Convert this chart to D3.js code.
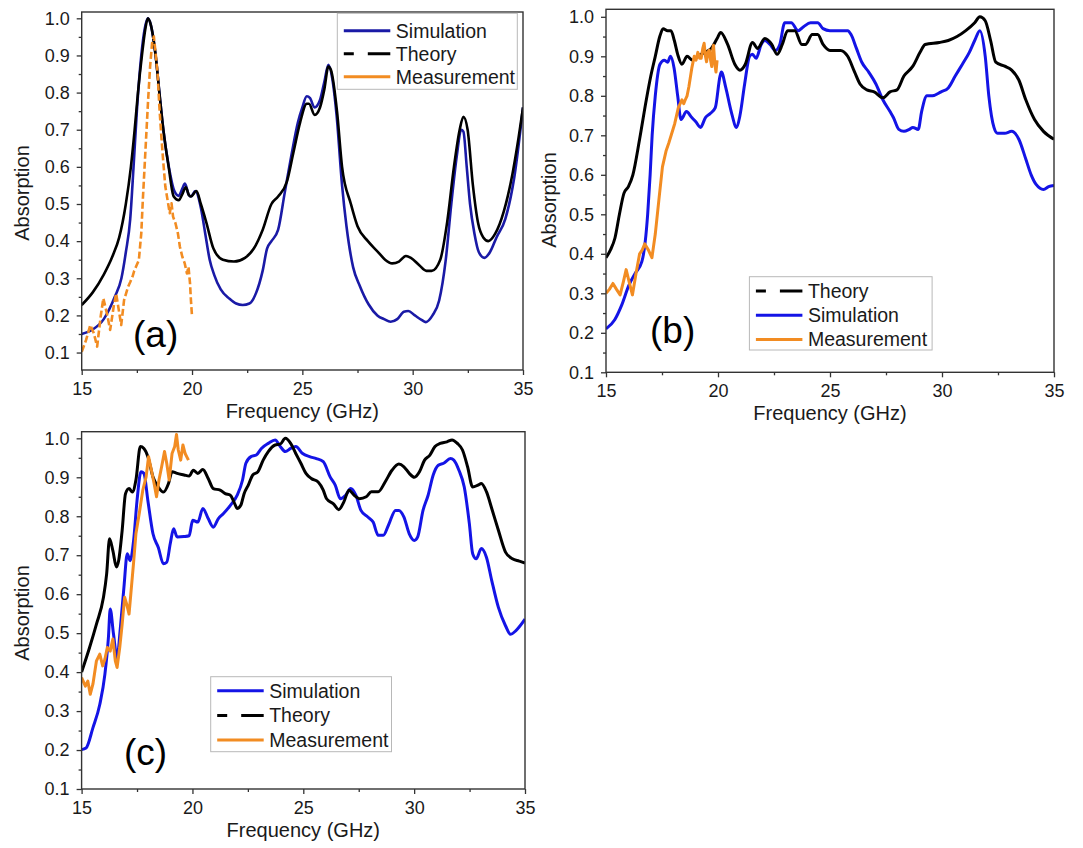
<!DOCTYPE html>
<html>
<head>
<meta charset="utf-8">
<script src="https://cdn.jsdelivr.net/npm/d3@7/dist/d3.min.js"></script>
<style>
  body { margin: 0; background: #fff; }
  svg text { font-family: Arial, "Liberation Sans", sans-serif; fill: #1a1a1a; }
</style>
</head>
<body>
<svg id="chart" width="1083" height="848"></svg>
<script>
"use strict";

/**
 * Absorption spectra of three absorbers, panels (a) (b) (c).
 * Values, [frequency GHz, absorption].
 */

var xTicks = [15, 20, 25, 30, 35]
var xMinorTicks = [17.5, 22.5, 27.5, 32.5]
var yTicks = [0.1, 0.2, 0.3, 0.4, 0.5, 0.6, 0.7, 0.8, 0.9, 1.0]
var yMinorTicks = [0.15, 0.25, 0.35, 0.45, 0.55, 0.65, 0.75, 0.85, 0.95]

// panel (a)
var simA = [[15.0,0.15],[15.5,0.162],[16.0,0.19],[16.5,0.25],[16.8,0.3],[17.0,0.37],[17.2,0.46],[17.35,0.6],
  [17.5,0.75],[17.7,0.9],[17.85,0.97],[18.0,1.0],[18.12,0.985],[18.35,0.9],[18.52,0.8],[18.7,0.7],[18.95,0.6],
  [19.2,0.535],[19.4,0.522],[19.55,0.54],[19.68,0.555],[19.85,0.525],[19.95,0.52],[20.15,0.535],[20.4,0.49],
  [20.6,0.42],[20.8,0.35],[21.0,0.31],[21.3,0.27],[21.7,0.245],[22.0,0.232],[22.3,0.228],[22.6,0.232],[22.9,0.26],
  [23.2,0.32],[23.4,0.38],[23.6,0.4],[23.9,0.43],[24.2,0.53],[24.5,0.63],[24.8,0.72],[25.0,0.76],[25.2,0.79],
  [25.35,0.785],[25.55,0.76],[25.8,0.78],[26.0,0.83],[26.18,0.875],[26.35,0.84],[26.55,0.74],[26.8,0.55],[27.0,0.44],
  [27.3,0.33],[27.6,0.28],[28.0,0.23],[28.4,0.2],[28.7,0.19],[29.0,0.183],[29.3,0.19],[29.6,0.21],[29.8,0.212],
  [30.1,0.2],[30.4,0.188],[30.6,0.182],[30.9,0.2],[31.2,0.24],[31.5,0.35],[31.75,0.5],[32.0,0.63],[32.2,0.7],
  [32.3,0.695],[32.45,0.6],[32.6,0.5],[32.8,0.42],[33.0,0.37],[33.25,0.355],[33.5,0.37],[33.8,0.41],[34.2,0.46],
  [34.6,0.57],[35.0,0.76]]
var theoryA = [[15.0,0.228],[15.5,0.262],[16.0,0.31],[16.4,0.36],[16.7,0.41],[17.0,0.5],[17.23,0.6],[17.4,0.7],
  [17.55,0.8],[17.73,0.9],[17.88,0.97],[18.0,1.0],[18.12,0.985],[18.35,0.9],[18.52,0.8],[18.7,0.7],[18.94,0.6],
  [19.17,0.52],[19.4,0.51],[19.55,0.525],[19.72,0.545],[19.85,0.525],[19.95,0.52],[20.2,0.535],[20.4,0.5],
  [20.65,0.45],[20.97,0.38],[21.4,0.35],[21.9,0.345],[22.4,0.355],[22.8,0.38],[23.2,0.43],[23.6,0.5],[23.9,0.52],
  [24.3,0.56],[24.6,0.64],[24.9,0.72],[25.2,0.77],[25.3,0.77],[25.56,0.74],[25.8,0.76],[26.0,0.81],[26.18,0.87],
  [26.3,0.86],[26.57,0.75],[26.8,0.6],[27.2,0.5],[27.5,0.44],[27.97,0.4],[28.44,0.37],[28.75,0.35],[29.07,0.34],
  [29.38,0.345],[29.69,0.36],[29.92,0.355],[30.3,0.335],[30.62,0.32],[30.86,0.32],[31.25,0.35],[31.56,0.45],
  [31.87,0.6],[32.13,0.7],[32.3,0.735],[32.49,0.7],[32.73,0.55],[32.96,0.45],[33.2,0.41],[33.43,0.4],[33.74,0.42],
  [34.13,0.48],[34.52,0.58],[34.75,0.66],[35.0,0.76]]
var measA = [[15.0,0.102],[15.2,0.134],[15.39,0.174],[15.55,0.152],[15.7,0.116],[15.86,0.197],[15.98,0.246],
  [16.14,0.206],[16.29,0.161],[16.45,0.224],[16.56,0.259],[16.68,0.215],[16.79,0.174],[16.92,0.241],[17.1,0.277],
  [17.2,0.29],[17.3,0.304],[17.38,0.32],[17.46,0.331],[17.59,0.349],[17.7,0.421],[17.77,0.511],[17.85,0.6],
  [17.93,0.69],[18.01,0.78],[18.1,0.87],[18.19,0.933],[18.27,0.951],[18.35,0.906],[18.44,0.852],[18.52,0.762],
  [18.6,0.69],[18.69,0.618],[18.79,0.547],[18.89,0.511],[18.99,0.475],[19.07,0.502],[19.14,0.466],[19.25,0.448],
  [19.36,0.421],[19.45,0.385],[19.56,0.358],[19.67,0.34],[19.77,0.313],[19.84,0.331],[19.91,0.286],[19.95,0.241],
  [20.0,0.197]]

// panel (b)
var theoryB = [[15.0,0.39],[15.2,0.41],[15.4,0.44],[15.6,0.5],[15.8,0.553],[16.0,0.57],[16.2,0.6],[16.5,0.69],
  [16.8,0.79],[17.0,0.85],[17.2,0.9],[17.4,0.95],[17.55,0.97],[17.75,0.965],[17.9,0.965],[18.05,0.94],[18.2,0.905],
  [18.39,0.88],[18.62,0.9],[18.86,0.89],[19.1,0.9],[19.4,0.91],[19.7,0.92],[19.96,0.945],[20.12,0.96],[20.43,0.93],
  [20.75,0.88],[20.98,0.865],[21.22,0.88],[21.54,0.935],[21.77,0.92],[22.09,0.945],[22.4,0.93],[22.64,0.905],
  [22.87,0.93],[23.11,0.965],[23.43,0.965],[23.74,0.93],[23.9,0.93],[24.21,0.955],[24.45,0.955],[24.69,0.93],
  [25.0,0.915],[25.47,0.915],[25.79,0.9],[26.1,0.86],[26.34,0.83],[26.65,0.815],[26.97,0.81],[27.36,0.795],
  [27.68,0.81],[27.99,0.815],[28.3,0.85],[28.7,0.875],[29.02,0.91],[29.25,0.93],[29.88,0.935],[30.28,0.94],
  [30.67,0.95],[31.06,0.965],[31.46,0.985],[31.69,1.0],[31.93,0.99],[32.17,0.94],[32.4,0.885],[32.8,0.875],
  [33.11,0.865],[33.43,0.84],[33.74,0.79],[34.13,0.74],[34.53,0.71],[35.0,0.69]]
var simB = [[15.0,0.21],[15.39,0.233],[15.7,0.27],[16.02,0.32],[16.3,0.35],[16.6,0.38],[16.75,0.43],[16.86,0.5],
  [16.97,0.6],[17.06,0.7],[17.2,0.8],[17.41,0.88],[17.6,0.89],[17.75,0.885],[17.88,0.9],[18.04,0.87],[18.2,0.8],
  [18.35,0.74],[18.59,0.76],[18.83,0.745],[19.0,0.735],[19.22,0.72],[19.44,0.745],[19.65,0.755],[19.88,0.77],
  [20.09,0.85],[20.15,0.86],[20.35,0.82],[20.59,0.76],[20.83,0.72],[20.98,0.75],[21.19,0.83],[21.41,0.9],
  [21.54,0.905],[21.7,0.895],[21.93,0.93],[22.09,0.94],[22.32,0.93],[22.56,0.915],[22.76,0.93],[22.98,0.985],
  [23.27,0.985],[23.58,0.965],[23.82,0.975],[24.13,0.985],[24.45,0.985],[24.69,0.97],[25.0,0.965],[25.79,0.965],
  [25.94,0.955],[26.18,0.92],[26.42,0.885],[26.73,0.86],[27.05,0.83],[27.36,0.79],[27.68,0.76],[27.83,0.745],
  [28.07,0.715],[28.3,0.71],[28.54,0.715],[28.7,0.72],[28.94,0.715],[29.09,0.76],[29.33,0.8],[29.57,0.8],
  [29.96,0.81],[30.28,0.82],[30.59,0.85],[30.91,0.88],[31.22,0.91],[31.46,0.94],[31.69,0.965],[31.93,0.9],
  [32.09,0.8],[32.32,0.72],[32.48,0.705],[32.8,0.705],[33.11,0.71],[33.43,0.69],[33.74,0.64],[33.98,0.6],
  [34.21,0.575],[34.53,0.563],[34.76,0.57],[35.0,0.573]]
var measB = [[15.0,0.3],[15.15,0.31],[15.31,0.325],[15.47,0.31],[15.63,0.296],[15.78,0.33],[15.9,0.36],
  [16.05,0.325],[16.18,0.296],[16.34,0.35],[16.5,0.4],[16.62,0.41],[16.73,0.425],[16.89,0.41],[17.05,0.39],
  [17.2,0.45],[17.36,0.536],[17.52,0.62],[17.68,0.66],[17.8,0.68],[17.91,0.7],[18.07,0.73],[18.23,0.77],
  [18.39,0.79],[18.47,0.78],[18.54,0.79],[18.62,0.8],[18.7,0.823],[18.83,0.87],[18.94,0.9],[19.02,0.89],
  [19.1,0.91],[19.18,0.895],[19.25,0.895],[19.32,0.92],[19.38,0.933],[19.44,0.9],[19.49,0.886],[19.55,0.91],
  [19.61,0.916],[19.67,0.89],[19.72,0.874],[19.77,0.92],[19.8,0.928],[19.86,0.88],[19.91,0.86],[19.96,0.89]]

// panel (c)
var simC = [[15.0,0.201],[15.2,0.205],[15.51,0.257],[15.82,0.317],[16.05,0.394],[16.21,0.489],[16.29,0.562],
  [16.44,0.497],[16.6,0.437],[16.75,0.515],[16.91,0.618],[17.06,0.704],[17.19,0.686],[17.35,0.74],[17.5,0.84],
  [17.68,0.914],[17.81,0.91],[17.99,0.84],[18.22,0.755],[18.46,0.72],[18.69,0.678],[18.84,0.682],[19.0,0.73],
  [19.15,0.768],[19.31,0.747],[19.62,0.748],[19.85,0.75],[20.01,0.79],[20.24,0.785],[20.47,0.82],[20.71,0.794],
  [20.94,0.772],[21.17,0.794],[21.4,0.807],[21.71,0.828],[22.02,0.854],[22.26,0.893],[22.41,0.936],[22.64,0.953],
  [22.88,0.957],[23.11,0.974],[23.42,0.987],[23.73,0.996],[23.96,0.979],[24.19,0.966],[24.43,0.974],[24.66,0.979],
  [24.97,0.961],[25.28,0.953],[25.59,0.948],[25.9,0.94],[26.21,0.901],[26.44,0.88],[26.67,0.845],[26.91,0.854],
  [27.14,0.871],[27.37,0.854],[27.6,0.815],[27.91,0.798],[28.15,0.785],[28.38,0.751],[28.61,0.751],[28.84,0.777],
  [29.16,0.815],[29.31,0.815],[29.54,0.798],[29.78,0.755],[30.01,0.738],[30.16,0.747],[30.4,0.815],[30.63,0.854],
  [30.86,0.906],[31.09,0.931],[31.33,0.936],[31.64,0.948],[31.79,0.944],[32.02,0.918],[32.26,0.875],[32.49,0.781],
  [32.64,0.704],[32.8,0.691],[33.03,0.717],[33.26,0.695],[33.5,0.635],[33.8,0.566],[34.12,0.519],[34.35,0.497],
  [34.58,0.506],[35.0,0.536]]
var theoryC = [[15.0,0.4],[15.36,0.463],[15.67,0.523],[15.98,0.59],[16.13,0.652],[16.26,0.742],[16.41,0.712],
  [16.57,0.67],[16.67,0.686],[16.83,0.764],[16.98,0.858],[17.14,0.871],[17.29,0.862],[17.45,0.893],[17.65,0.979],
  [17.81,0.974],[17.99,0.953],[18.22,0.901],[18.46,0.875],[18.69,0.862],[18.92,0.884],[19.08,0.914],[19.31,0.91],
  [19.62,0.906],[19.85,0.903],[20.04,0.918],[20.24,0.91],[20.47,0.92],[20.71,0.897],[20.94,0.871],[21.25,0.867],
  [21.48,0.858],[21.71,0.854],[21.87,0.837],[22.02,0.82],[22.18,0.828],[22.33,0.858],[22.52,0.88],[22.72,0.906],
  [22.95,0.914],[23.19,0.944],[23.42,0.966],[23.73,0.983],[23.96,0.985],[24.19,1.0],[24.43,0.987],[24.66,0.961],
  [24.89,0.936],[25.12,0.91],[25.36,0.897],[25.67,0.888],[25.9,0.867],[26.05,0.845],[26.36,0.832],[26.6,0.817],
  [26.83,0.837],[27.06,0.867],[27.29,0.854],[27.53,0.845],[27.84,0.85],[28.07,0.863],[28.38,0.863],[28.69,0.888],
  [29.0,0.918],[29.31,0.934],[29.54,0.927],[29.78,0.91],[30.01,0.9],[30.24,0.914],[30.47,0.944],[30.71,0.957],
  [30.94,0.979],[31.17,0.987],[31.48,0.991],[31.71,0.996],[31.95,0.987],[32.18,0.97],[32.41,0.927],[32.64,0.875],
  [32.88,0.88],[33.03,0.884],[33.26,0.863],[33.5,0.82],[33.8,0.764],[34.12,0.708],[34.43,0.691],[34.74,0.685],
  [35.0,0.68]]
var measC = [[15.0,0.386],[15.17,0.364],[15.28,0.377],[15.39,0.343],[15.51,0.369],[15.67,0.429],[15.82,0.446],
  [15.95,0.416],[16.05,0.433],[16.16,0.463],[16.29,0.454],[16.41,0.485],[16.52,0.429],[16.6,0.412],[16.72,0.463],
  [16.83,0.523],[16.94,0.592],[17.03,0.575],[17.14,0.549],[17.22,0.6],[17.34,0.678],[17.45,0.755],[17.6,0.807],
  [17.76,0.867],[17.91,0.901],[18.02,0.953],[18.15,0.918],[18.27,0.884],[18.38,0.85],[18.49,0.893],[18.61,0.927],
  [18.74,0.966],[18.84,0.936],[18.95,0.893],[19.08,0.961],[19.2,0.979],[19.28,1.01],[19.36,0.97],[19.47,0.944],
  [19.57,0.983],[19.67,0.961],[19.74,0.953],[19.82,0.944]]

var BLUE_A = "#1a1aa6"
var BLUE = "#1414e6"
var BLACK = "#000000"
var ORANGE = "#f28c22"

var panels = [
  {
    label: "(a)", labelX: 133, labelY: 346.5,
    left: 81.7, right: 523, top: 12, bottom: 370, yMin: 0.053, yMax: 1.017,
    yTitleX: 22.4, yTitleY: 193, xTitleY: 417.5,
    legend: { x: 337.3, y: 13.3, w: 180, h: 76, row0: 30.7, step: 23 },
    series: [
      { name: "Simulation", data: simA, color: BLUE_A, width: 2.6 },
      { name: "Theory", data: theoryA, color: BLACK, width: 2.6 },
      { name: "Measurement", data: measA, color: ORANGE, width: 2.6, dash: "7,3", rough: true }
    ],
    legendOrder: ["Simulation", "Theory", "Measurement"]
  },
  {
    label: "(b)", labelX: 650, labelY: 343,
    left: 606, right: 1054, top: 9.3, bottom: 372.3, yMin: 0.1, yMax: 1.019,
    yTitleX: 549.4, yTitleY: 200, xTitleY: 420,
    legend: { x: 749.4, y: 276.7, w: 182.7, h: 73.3, row0: 291, step: 24.2 },
    series: [
      { name: "Simulation", data: simB, color: BLUE, width: 3 },
      { name: "Theory", data: theoryB, color: BLACK, width: 3 },
      { name: "Measurement", data: measB, color: ORANGE, width: 3, rough: true }
    ],
    legendOrder: ["Theory", "Simulation", "Measurement"]
  },
  {
    label: "(c)", labelX: 124, labelY: 765,
    left: 81.6, right: 525, top: 431.7, bottom: 789, yMin: 0.1, yMax: 1.017,
    yTitleX: 22.4, yTitleY: 613, xTitleY: 836.5,
    legend: { x: 210.7, y: 676.7, w: 180.8, h: 75, row0: 690.7, step: 24.7 },
    series: [
      { name: "Simulation", data: simC, color: BLUE, width: 3 },
      { name: "Theory", data: theoryC, color: BLACK, width: 3 },
      { name: "Measurement", data: measC, color: ORANGE, width: 3, rough: true }
    ],
    legendOrder: ["Simulation", "Theory", "Measurement"]
  }
]

var svg = d3.select("#chart")
svg.append("rect").attr("width", 1083).attr("height", 848).attr("fill", "#fff")

panels.forEach(function(p) { drawPanel(svg, p) })

/**
 * Draw one panel: frame, ticks, curves, legend and labels.
 *
 * @param svg   Root selection.
 * @param p     Panel description.
 */
function drawPanel(svg, p) {
  var x = d3.scaleLinear().domain([15, 35]).range([p.left, p.right])
  var y = d3.scaleLinear().domain([p.yMin, p.yMax]).range([p.bottom, p.top])
  var g = svg.append("g")

  // curves, clipped to the frame
  var clipId = "clip" + p.label.replace(/[()]/g, "")
  svg.append("clipPath").attr("id", clipId)
    .append("rect")
      .attr("x", p.left).attr("y", p.top)
      .attr("width", p.right - p.left).attr("height", p.bottom - p.top)

  var curves = g.append("g").attr("clip-path", "url(#" + clipId + ")")
  p.series.forEach(function(s) {
    var line = d3.line()
      .x(function(d) { return x(d[0]) })
      .y(function(d) { return y(d[1]) })
      .curve(s.rough ? d3.curveLinear : d3.curveMonotoneX)
    curves.append("path")
      .datum(s.data)
      .attr("d", line)
      .attr("fill", "none")
      .attr("stroke", s.color)
      .attr("stroke-width", s.width)
      .attr("stroke-linejoin", "round")
      .attr("stroke-dasharray", s.dash || null)
  })

  // axes
  var xAxis = g.append("g")
    .attr("transform", "translate(0," + p.bottom + ")")
    .call(d3.axisBottom(x).tickValues(xTicks).tickSize(5).tickPadding(7).tickFormat(d3.format("d")))
  g.append("g")
    .attr("transform", "translate(0," + p.bottom + ")")
    .call(d3.axisBottom(x).tickValues(xMinorTicks).tickSize(3).tickFormat(""))
  var yAxis = g.append("g")
    .attr("transform", "translate(" + p.left + ",0)")
    .call(d3.axisLeft(y).tickValues(yTicks).tickSize(5).tickPadding(7).tickFormat(d3.format(".1f")))
  g.append("g")
    .attr("transform", "translate(" + p.left + ",0)")
    .call(d3.axisLeft(y).tickValues(yMinorTicks).tickSize(3).tickFormat(""))

  g.selectAll(".domain").remove()
  g.selectAll(".tick line").attr("stroke", "#333").attr("stroke-width", 1.3)
  xAxis.selectAll("text").attr("font-size", 18).attr("fill", "#1a1a1a")
  yAxis.selectAll("text").attr("font-size", 18).attr("fill", "#1a1a1a")

  // frame
  g.append("rect")
    .attr("x", p.left).attr("y", p.top)
    .attr("width", p.right - p.left).attr("height", p.bottom - p.top)
    .attr("fill", "none").attr("stroke", "#333").attr("stroke-width", 1.4)

  // titles
  g.append("text")
    .attr("x", (p.left + p.right) / 2).attr("y", p.xTitleY)
    .attr("text-anchor", "middle").attr("font-size", 20)
    .text("Frequency (GHz)")
  g.append("text")
    .attr("transform", "translate(" + p.yTitleX + "," + p.yTitleY + ") rotate(-90)")
    .attr("text-anchor", "middle").attr("dy", "0.35em").attr("font-size", 20)
    .text("Absorption")

  g.append("text")
    .attr("x", p.labelX).attr("y", p.labelY)
    .attr("font-family", "'Open Sans', sans-serif").attr("font-size", 37)
    .style("fill", "#000")
    .text(p.label)

  legend(g, p)
}

/**
 * Legend box with a short line sample before each name.
 *
 * @param g   Panel group.
 * @param p   Panel description.
 */
function legend(g, p) {
  var L = p.legend
  var byName = {}
  p.series.forEach(function(s) { byName[s.name] = s })

  g.append("rect")
    .attr("x", L.x).attr("y", L.y).attr("width", L.w).attr("height", L.h)
    .attr("fill", "#fff").attr("stroke", "#b8b8b8").attr("stroke-width", 1)

  var rows = g.append("g")
    .selectAll("g")
    .data(p.legendOrder)
    .enter()
    .append("g")
      .attr("transform", function(d, i) {
        return "translate(" + L.x + "," + (L.row0 + i * L.step) + ")"
      })

  rows.append("line")
    .attr("x1", 6.5).attr("x2", 53)
    .attr("stroke", function(d) { return byName[d].color })
    .attr("stroke-width", 3)
    .attr("stroke-dasharray", function(d) { return d === "Theory" ? "10,14,23" : null })
  rows.append("text")
    .attr("x", 58.5).attr("dy", "0.35em").attr("font-size", 19.5)
    .text(function(d) { return d })
}
</script>
</body>
</html>
